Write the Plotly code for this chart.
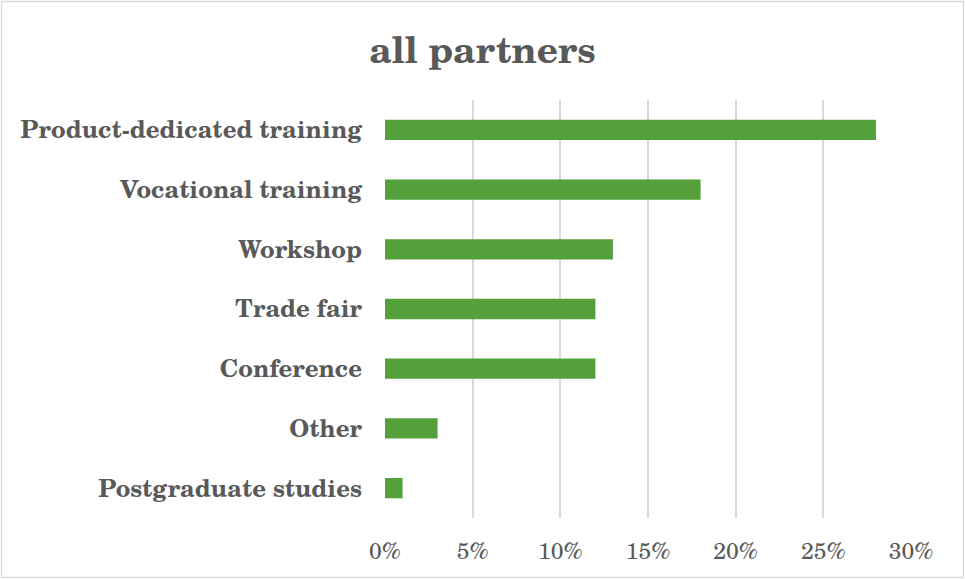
import plotly.graph_objects as go

categories = ["Product-dedicated training", "Vocational training", "Workshop",
              "Trade fair", "Conference", "Other", "Postgraduate studies"]
values = [0.28, 0.18, 0.13, 0.12, 0.12, 0.03, 0.01]
tick_vals = [0, 0.05, 0.10, 0.15, 0.20, 0.25, 0.30]
tick_text = ["0%", "5%", "10%", "15%", "20%", "25%", "30%"]

W, H = 965, 579
ML, MR, MT, MB = 385, 54, 100, 61
FONT = "Century Schoolbook, 'TeX Gyre Schola', 'DejaVu Serif', serif"

fig = go.Figure(go.Bar(
    x=values, y=categories, orientation="h",
    marker=dict(color="#54A03A", line=dict(width=0)),
))

pw = W - ML - MR
ph = H - MT - MB
def px2x(p):
    return (p - ML) / pw
def py2y(p):
    return 1 - (p - MT) / ph

fig.update_layout(
    width=W, height=H,
    margin=dict(l=ML, r=MR, t=MT, b=MB),
    paper_bgcolor="white", plot_bgcolor="white",
    title=dict(text="<b>all partners</b>", x=0.5, xanchor="center",
               y=1 - 50 / H, yanchor="middle",
               font=dict(family=FONT, size=37, color="#595959")),
    bargap=0.66,
    showlegend=False,
    xaxis=dict(range=[0, 0.30], tickvals=tick_vals, ticktext=tick_text,
               showgrid=True, gridcolor="#d9d9d9", gridwidth=1.5,
               zeroline=False, showline=False, ticks="",
               ticklabelstandoff=17,
               tickfont=dict(family=FONT, size=23, color="#595959")),
    yaxis=dict(categoryorder="array", categoryarray=categories[::-1],
               showgrid=False, zeroline=False, showline=False, ticks="",
               ticklabelstandoff=22,
               tickfont=dict(family=FONT, size=24, color="#595959")),
    shapes=[dict(type="rect", xref="paper", yref="paper",
                 x0=px2x(1.5), x1=px2x(W - 1.5), y0=py2y(1.5), y1=py2y(H - 1.5),
                 line=dict(color="#d9d9d9", width=1.3), layer="below")],
)
fig.update_yaxes(tickprefix="<b>", ticksuffix="</b>")

fig.write_html("out.html", config={"displayModeBar": False},
               post_script="document.body.style.margin='0';document.body.style.overflow='hidden';")
